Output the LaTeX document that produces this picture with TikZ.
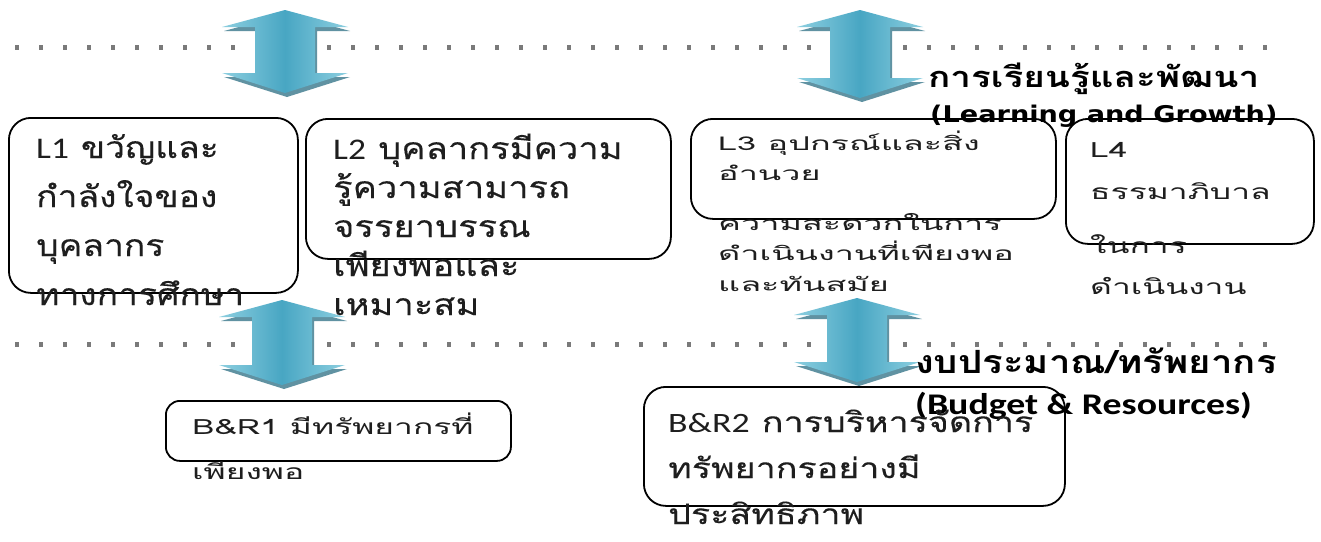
\documentclass[tikz,border=0pt]{standalone}
\usepackage{fontspec}
\newfontfamily\thaiA[Script=Thai,FakeStretch=1.18,FakeBold=0.2]{Loma}
\newfontfamily\thaiL[Script=Thai,FakeStretch=1.21,FakeBold=0.2]{Loma}
\newfontfamily\thaiB[Script=Thai,FakeStretch=1.8]{Loma}
\newfontfamily\thaiC[Script=Thai,FakeStretch=1.6]{Loma}
\newfontfamily\thaiD[Script=Thai,FakeStretch=1.28,FakeBold=0.2]{Loma}
\newfontfamily\thaiH[Script=Thai,FakeStretch=1.27]{Loma}
\newfontfamily\thaiK[Script=Thai,FakeStretch=1.2]{Loma}
\newfontfamily\carlA[FakeStretch=1.18]{Carlito}
\newfontfamily\carlD[FakeStretch=1.28]{Carlito}
\newfontfamily\carlH[FakeStretch=1.26]{Carlito}
\newfontfamily\dvsH[FakeStretch=1.18]{DejaVu Sans}
\definecolor{arrowlight}{HTML}{8DCFE0}
\definecolor{arrowmid}{HTML}{48A6C3}
\definecolor{arrowshadow}{HTML}{2B6E83}
\definecolor{dotgray}{HTML}{7A7A7A}
\definecolor{txtc}{HTML}{1E1E1E}
\tikzset{
  box/.style={draw=black, line width=1.8pt, rounded corners=22pt, anchor=north west, inner sep=0pt},
  txt/.style={anchor=base west, align=left, inner sep=0pt, text=txtc},
  head/.style={anchor=base west, inner sep=0pt, text=black},
  dots/.style={draw=dotgray, line width=5pt, dash pattern=on 4pt off 20pt},
}
\newcommand\biarrow[3]{%
  \fill[arrowshadow, opacity=0.75, shift={(2,4)}]
    (#1,#2) -- ({#1+63},{#2+17}) -- ({#1+30},{#2+17}) -- ({#1+30},{#3-20}) -- ({#1+63},{#3-20})
    -- (#1,#3) -- ({#1-63},{#3-20}) -- ({#1-30},{#3-20}) -- ({#1-30},{#2+17}) -- ({#1-63},{#2+17}) -- cycle;
  \shade[left color=arrowlight, right color=arrowlight, middle color=arrowmid]
    (#1,#2) -- ({#1+63},{#2+17}) -- ({#1+30},{#2+17}) -- ({#1+30},{#3-20}) -- ({#1+63},{#3-20})
    -- (#1,#3) -- ({#1-63},{#3-20}) -- ({#1-30},{#3-20}) -- ({#1-30},{#2+17}) -- ({#1-63},{#2+17}) -- cycle;
}
\begin{document}
\begin{tikzpicture}[x=1pt,y=-1pt]
\useasboundingbox (0,0) rectangle (1321,541);
\fill[white] (0,0) rectangle (1321,541);

% dotted lines
\coordinate (d1a) at (15,47);
\coordinate (d1b) at (1272,47);
\coordinate (d2a) at (15,344);
\coordinate (d2b) at (1272,344);
\draw[dots] (d1a) -- (d1b);
\draw[dots] (d2a) -- (d2b);

% arrows
\biarrow{285}{10}{93}
\biarrow{860}{10}{98}
\biarrow{282}{300}{385}
\biarrow{857}{298}{382}

% headers
\node[head, font=\thaiH\bfseries\fontsize{29}{29}\selectfont] (h1) at (928,87) {การเรียนรู้และพัฒนา};
\node[head, font=\dvsH\bfseries\fontsize{23}{23}\selectfont] (h2) at (930,122) {(Learning and Growth)};
\node[head, font=\thaiK\bfseries\fontsize{32}{32}\selectfont] (h3) at (915,373) {งบประมาณ/ทรัพยากร};
\node[head, font=\carlH\bfseries\fontsize{30}{30}\selectfont] (h4) at (915,414) {(Budget \& Resources)};

% boxes
\node[box, minimum width=289, minimum height=175] (l1) at (8,117) {};
\node[box, minimum width=365, minimum height=140] (l2) at (305,118) {};
\node[box, minimum width=365, minimum height=100] (l3) at (690,118) {};
\node[box, minimum width=248, minimum height=125] (l4) at (1065,118) {};
\node[box, rounded corners=14pt, minimum width=345, minimum height=60] (b1) at (165,400) {};
\node[box, minimum width=421, minimum height=119] (b2) at (643,386) {};

% texts (anchor = baseline of last line)
\node[txt, font=\thaiA\fontsize{30}{49}\selectfont] (t1) at (36,305)
  {{\carlA L1} ขวัญและ\\กำลังใจของ\\บุคลากร\\ทางการศึกษา};
\node[txt, font=\thaiL\fontsize{30}{39}\selectfont] (t2) at (333,315)
  {{\carlA L2} บุคลากรมีความ\\รู้ความสามารถ\\จรรยาบรรณ\\เพียงพอและ\\เหมาะสม};
\node[txt, font=\thaiB\fontsize{19}{30}\selectfont] (t3a) at (718,180)
  {L3 อุปกรณ์และสิ่ง\\อำนวย};
\node[txt, font=\thaiB\fontsize{19}{30.5}\selectfont] (t3b) at (718,291)
  {ความสะดวกในการ\\ดำเนินงานที่เพียงพอ\\และทันสมัย};
\node[txt, font=\thaiC\fontsize{21}{42}\selectfont] (t4a) at (1090,199)
  {L4\\ธรรมาภิบาล};
\node[txt, font=\thaiC\fontsize{21}{41}\selectfont] (t4b) at (1090,294)
  {ในการ\\ดำเนินงาน};
\node[txt, font=\thaiC\fontsize{21}{45}\selectfont] (t5) at (192,479)
  {B\&R1 มีทรัพยากรที่\\เพียงพอ};
\node[txt, font=\thaiD\fontsize{28}{46}\selectfont] (t6) at (668,524)
  {{\carlD B\&R2} การบริหารจัดการ\\ทรัพยากรอย่างมี\\ประสิทธิภาพ};
\end{tikzpicture}
\end{document}
